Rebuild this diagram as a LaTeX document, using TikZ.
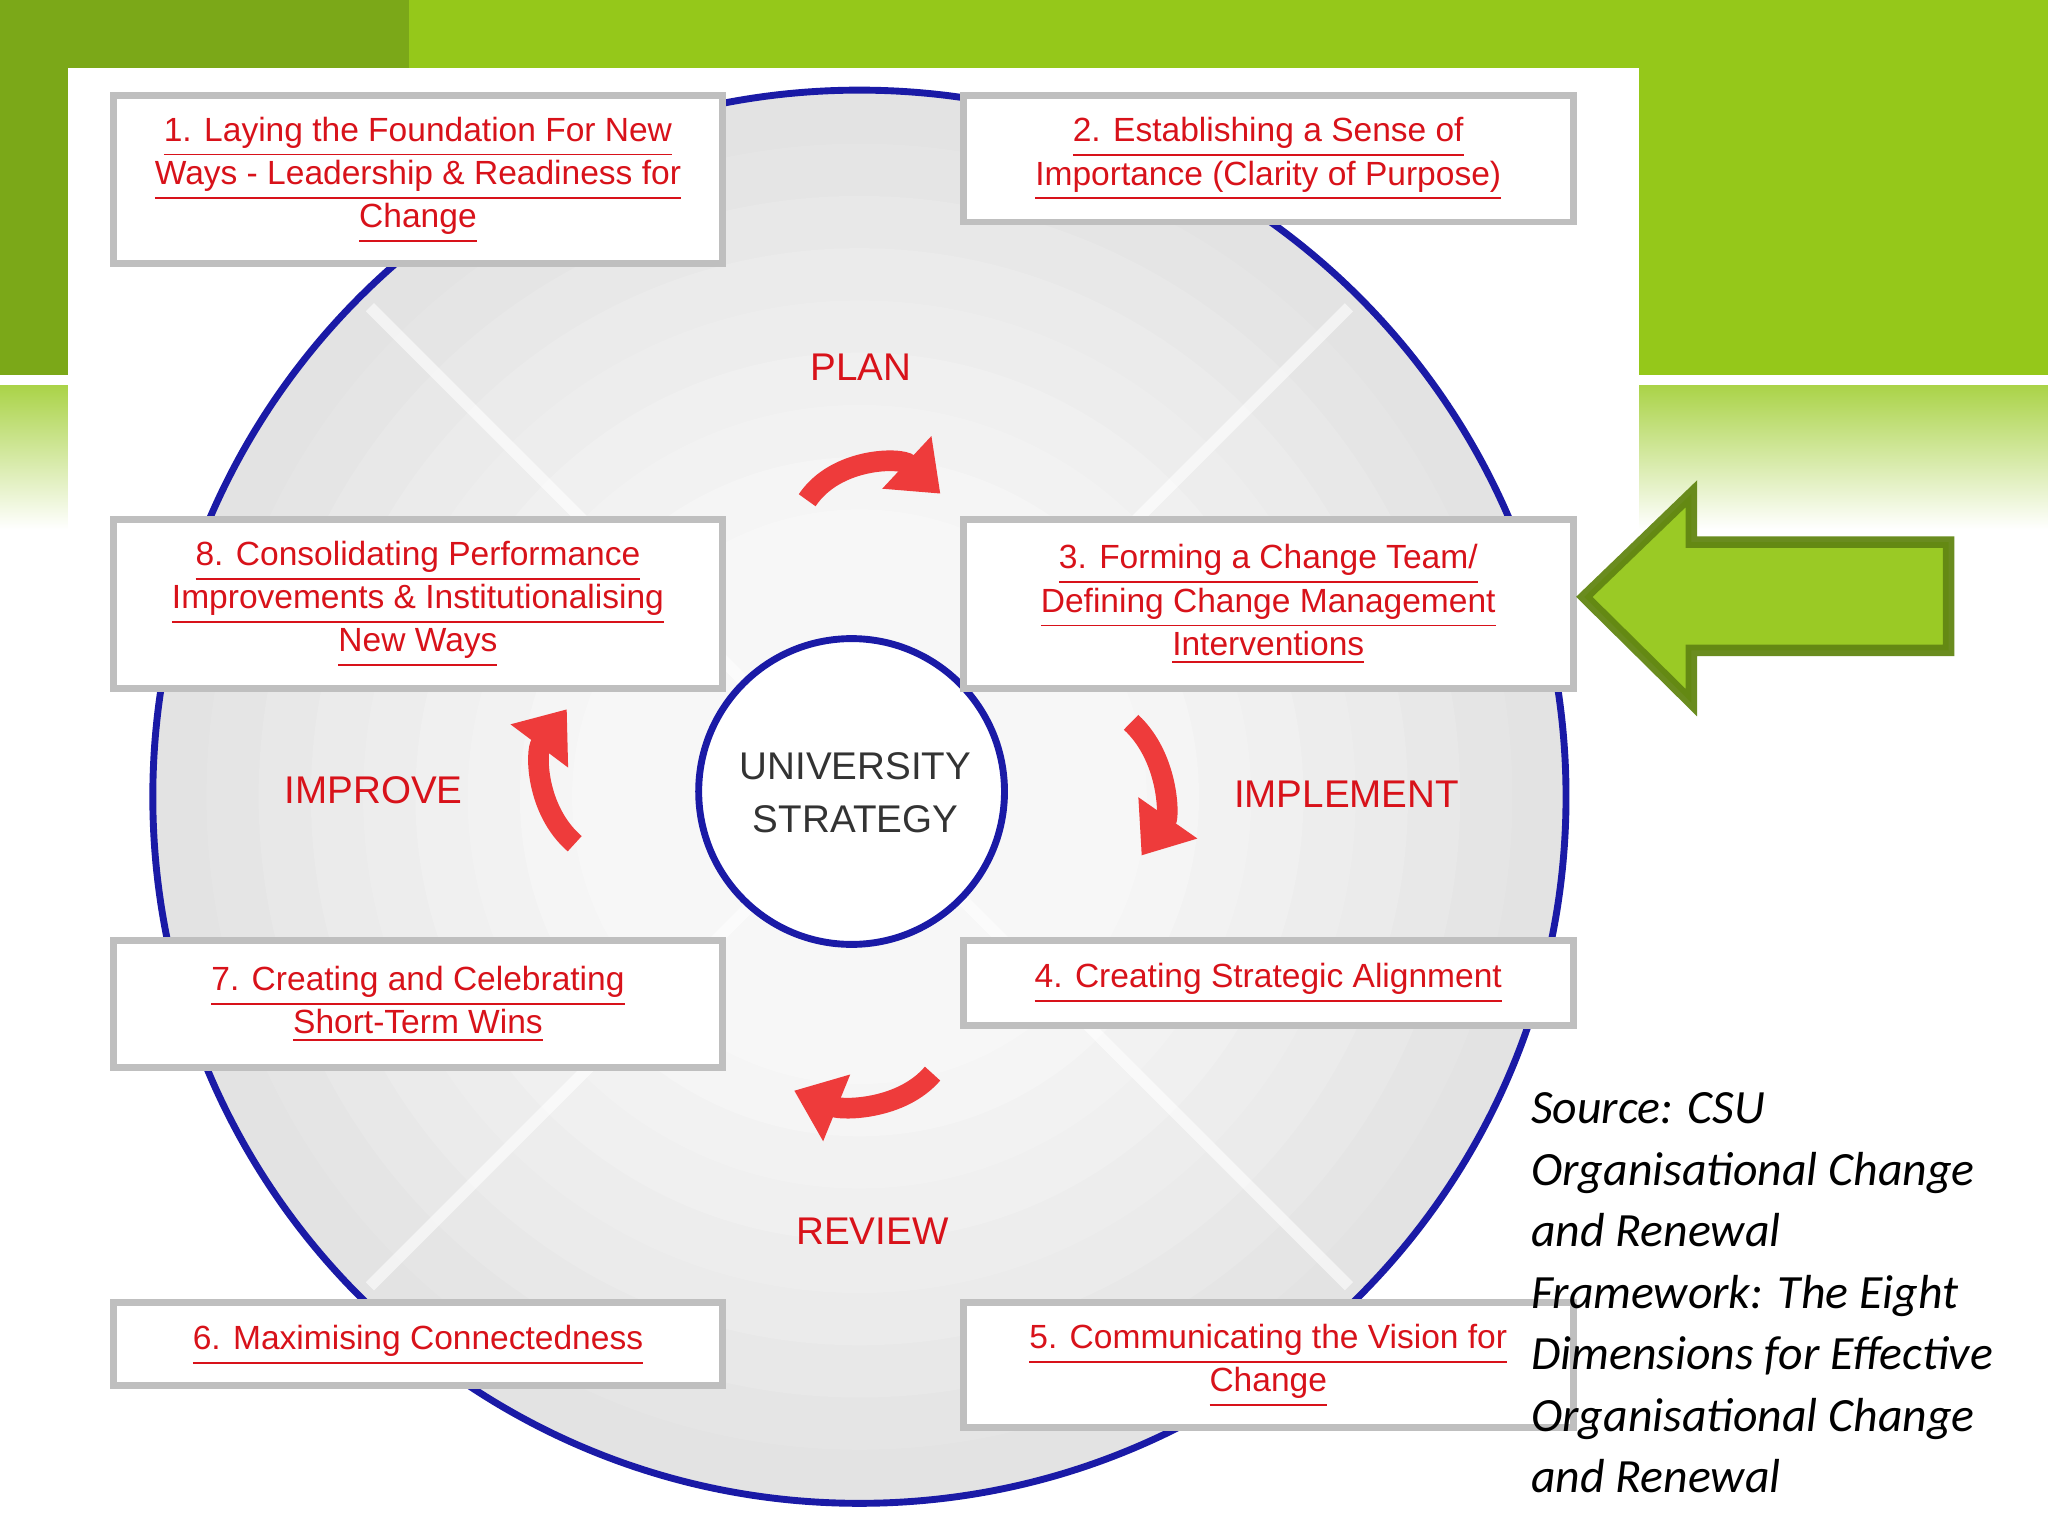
\documentclass[tikz,border=0pt]{standalone}
\usepackage{fontspec}
\setmainfont{Liberation Sans}
\newfontfamily\srcfont{Carlito}
\usetikzlibrary{arrows.meta}
\definecolor{lg}{HTML}{95C81A}
\definecolor{dg}{HTML}{7BA818}
\definecolor{cb}{HTML}{1A1AA6}
\definecolor{rd}{HTML}{D8121A}
\definecolor{ar}{HTML}{EE3B3B}
\begin{document}
\begin{tikzpicture}[x=0.01cm,y=-0.01cm,
 box/.style={draw=black!25,line width=1.5pt,fill=white},
 lab/.style={text=rd,font=\fontsize{7.3}{9.4}\selectfont,align=center},
 phase/.style={text=rd,font=\fontsize{8.4}{10}\selectfont},
 carrow/.style={draw=ar,line width=4.5pt,-{Triangle[length=10pt,width=15pt]}}]
\useasboundingbox (0,0) rectangle (1568,1176);
\fill[white] (0,0) rectangle (1568,1176);
\fill[lg] (0,0) rectangle (1568,287);
\fill[dg] (0,0) rectangle (313,287);
\shade[top color=lg!80,bottom color=white] (0,295) rectangle (1568,405);
\fill[white] (52,52) rectangle (1255,1176);
% big circle with soft radial tone
\foreach \r/\c in {541/11,500/10,460/9,420/8,380/7,340/6,300/5,260/4,220/3}{\fill[black!\c] (658,610) circle (\r);}
\foreach \a in {45,135,225,315}{\draw[white,line width=2.5pt,opacity=0.6] (658,610) -- ++(\a:530);}
\draw[cb,line width=1.5pt] (658,610) circle (541);
\node[circle,draw=cb,line width=1.5pt,fill=white,minimum size=2.34cm] (u) at (652,606) {};
\node[font=\fontsize{8.4}{11.5}\selectfont,align=center,text=black!80] at (655,607) {UNIVERSITY\\STRATEGY};
% boxes
\draw[box] (87,73) rectangle (553,202);
\node[lab] (b1) at (320,138) {\underline{1. Laying the Foundation For New}\\\underline{Ways - Leadership \& Readiness for}\\\underline{Change}};
\draw[box] (738,73) rectangle (1205,170);
\node[lab] (b2) at (971,122) {\underline{2. Establishing a Sense of}\\\underline{Importance (Clarity of Purpose)}};
\draw[box] (87,398) rectangle (553,527);
\node[lab] (b8) at (320,463) {\underline{8. Consolidating Performance}\\\underline{Improvements \& Institutionalising}\\\underline{New Ways}};
\draw[box] (738,398) rectangle (1205,527);
\node[lab] (b3) at (971,463) {\underline{3. Forming a Change Team/}\\\underline{Defining Change Management}\\\underline{Interventions}};
\draw[box] (87,720) rectangle (553,817);
\node[lab] (b7) at (320,769) {\underline{7. Creating and Celebrating}\\\underline{Short-Term Wins}};
\draw[box] (738,720) rectangle (1205,785);
\node[lab] (b4) at (971,753) {\underline{4. Creating Strategic Alignment}};
\draw[box] (87,997) rectangle (553,1061);
\node[lab] (b6) at (320,1030) {\underline{6. Maximising Connectedness}};
\draw[box] (738,997) rectangle (1205,1093);
\node[lab] (b5) at (971,1046) {\underline{5. Communicating the Vision for}\\\underline{Change}};
% phases
\node[phase] (plan) at (659,281) {PLAN};
\node[phase] (impl) at (1031,608) {IMPLEMENT};
\node[phase] (rev) at (668,943) {REVIEW};
\node[phase] (imp) at (286,605) {IMPROVE};
% red arrows
\draw[carrow] (618,383) .. controls (640,350) and (690,350) .. (720,378);
\draw[carrow] (866,553) .. controls (895,580) and (895,625) .. (874,655);
\draw[carrow] (714,822) .. controls (690,850) and (645,850) .. (608,835);
\draw[carrow] (440,646) .. controls (410,620) and (410,575) .. (434,543);
% green arrow
\draw[fill=lg,draw=dg!80!black,line width=2.5pt,opacity=0.95]
 (1213,457) -- (1295,378) -- (1295,415) -- (1492,415) -- (1492,498) -- (1295,498) -- (1295,538) -- cycle;
% source
\node[anchor=north west,align=left,font=\srcfont\itshape\fontsize{10.4}{13.4}\selectfont] (src) at (1160,824)
 {Source: CSU\\Organisational Change\\and Renewal\\Framework: The Eight\\Dimensions for Effective\\Organisational Change\\and Renewal};
\end{tikzpicture}
\end{document}
